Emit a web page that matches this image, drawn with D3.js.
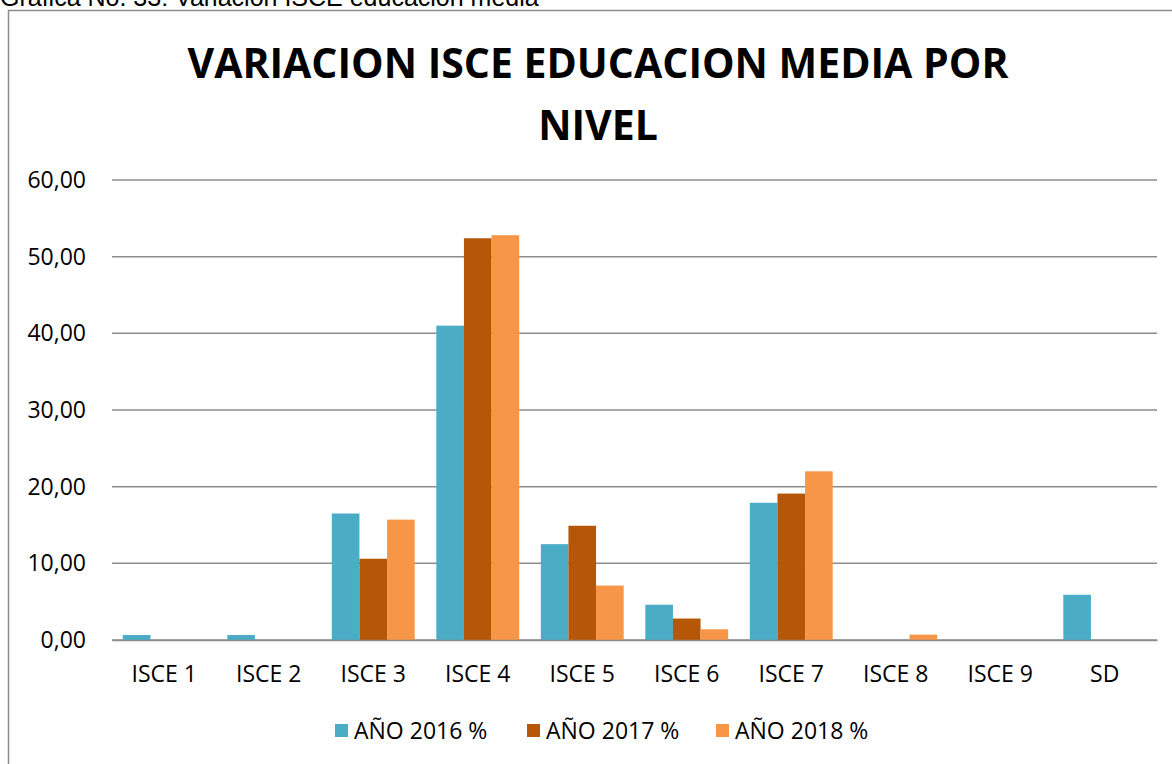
<!DOCTYPE html>
<html>
  <head>
    <meta charset="utf-8">
    <script src="https://cdn.jsdelivr.net/npm/d3@7/dist/d3.min.js"></script>
    <style>
      body { margin: 0; background: #fff; }
      svg text { font-family: "Open Sans", "Liberation Sans", sans-serif; fill: #000; }
    </style>
  </head>
  <body>
    <svg id="chart" width="1172" height="764"></svg>
    <script>
      // datos
      var niveles = ["ISCE 1", "ISCE 2", "ISCE 3", "ISCE 4", "ISCE 5", "ISCE 6", "ISCE 7", "ISCE 8", "ISCE 9", "SD"];
      var series = ["AÑO 2016 %", "AÑO 2017 %", "AÑO 2018 %"];
      var v2016 = [0.65, 0.65, 16.5, 41.0, 12.5, 4.6, 17.9, 0, 0, 5.9];
      var v2017 = [0, 0, 10.6, 52.4, 14.9, 2.8, 19.1, 0, 0, 0];
      var v2018 = [0, 0, 15.7, 52.8, 7.1, 1.4, 22.0, 0.7, 0, 0];
      var yTicks = [0, 10, 20, 30, 40, 50, 60];
      var colores = ["#4BACC6", "#B65708", "#F79646"];

      var valores = [v2016, v2017, v2018];
      var svg = d3.select("#chart");

      // leyenda de la figura (cortada arriba)
      svg.append("text").attr("x", 0).attr("y", 6)
        .style("font-family", "'Liberation Sans', Arial, sans-serif")
        .style("font-size", "25px").attr("fill", "#222")
        .text("Grafica No. 33: Variacion ISCE educacion media");

      // marco
      svg.append("rect").attr("x", 8.5).attr("y", 10.5).attr("width", 1180).attr("height", 800)
        .attr("fill", "#fff").attr("stroke", "#8c8c8c").attr("stroke-width", 1.5);

      // titulo
      var title = svg.append("text").attr("text-anchor", "middle")
        .style("font-weight", "bold").style("font-size", "41px");
      title.append("tspan").attr("x", 598).attr("y", 78).text("VARIACION ISCE EDUCACION MEDIA POR");
      title.append("tspan").attr("x", 598).attr("y", 140).text("NIVEL");

      var x0 = d3.scaleBand().domain(niveles).range([112, 1157]).paddingInner(0.207).paddingOuter(0.1035);
      var x1 = d3.scaleBand().domain(series).range([0, x0.bandwidth()]);
      var y = d3.scaleLinear().domain([0, 60]).range([640, 180]);

      // lineas de cuadricula
      svg.append("g").selectAll("line").data(yTicks).join("line")
        .attr("x1", 112).attr("x2", 1157)
        .attr("y1", d => y(d)).attr("y2", d => y(d))
        .attr("stroke", "#8c8c8c").attr("stroke-width", 1.5);

      // eje y
      var yAxis = svg.append("g").attr("transform", "translate(112,0)")
        .call(d3.axisLeft(y).tickValues(yTicks).tickSize(0).tickPadding(26)
          .tickFormat(d => d3.format(".2f")(d).replace(".", ",")));
      yAxis.select(".domain").remove();
      yAxis.selectAll("text").style("font-size", "23px").style("font-family", null);

      // barras
      var grupos = svg.append("g").selectAll("g").data(niveles).join("g")
        .attr("transform", d => "translate(" + x0(d) + ",0)");
      grupos.selectAll("rect").data((d, i) => series.map((s, j) => ({ s: s, v: valores[j][i], c: colores[j] })))
        .join("rect")
        .attr("x", d => x1(d.s)).attr("width", x1.bandwidth())
        .attr("y", d => y(d.v)).attr("height", d => y(0) - y(d.v))
        .attr("fill", d => d.c);

      // eje x
      var xAxis = svg.append("g").attr("transform", "translate(0,640)")
        .call(d3.axisBottom(x0).tickSize(0).tickPadding(26));
      xAxis.select(".domain").attr("stroke", "#8c8c8c").attr("stroke-width", 1.5);
      xAxis.selectAll("text").style("font-size", "23px").style("font-family", null);

      // leyenda
      var legX = [335, 527, 716];
      var leg = svg.append("g").selectAll("g").data(series).join("g")
        .attr("transform", (d, i) => "translate(" + legX[i] + ",724)");
      leg.append("rect").attr("width", 13).attr("height", 13).attr("fill", (d, i) => colores[i]);
      leg.append("text").attr("x", 19).attr("y", 15).style("font-size", "23px").text(d => d);
    </script>
  </body>
</html>
